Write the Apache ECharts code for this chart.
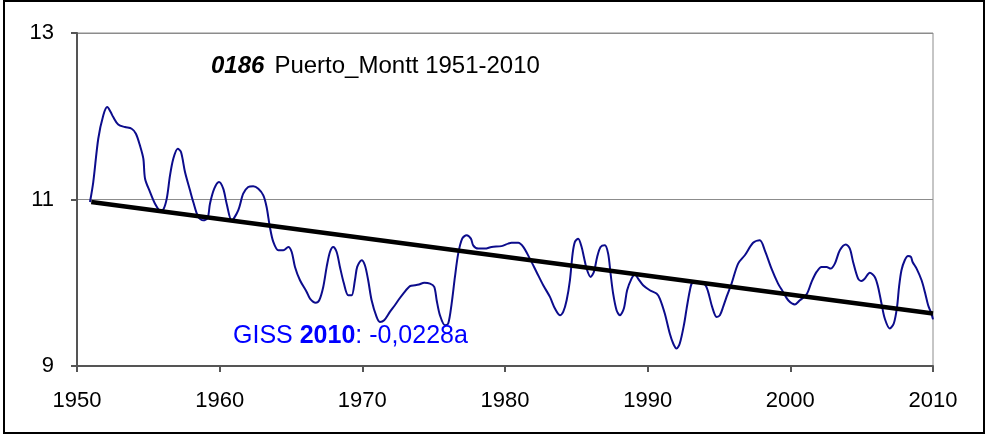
<!DOCTYPE html>
<html>
<head>
<meta charset="utf-8">
<script src="https://cdn.jsdelivr.net/npm/echarts@6/dist/echarts.min.js"></script>
<style>
    body { margin: 0; background: #fff; }
    #wrap { position: relative; width: 990px; height: 436px; }
    #frame { position: absolute; left: 3px; top: 0; width: 978px; height: 430px; border: 2px solid #000; pointer-events: none; }
    #chart { position: absolute; left: 0; top: 0; width: 990px; height: 436px; }
</style>
</head>
<body>
<div id="wrap">
    <div id="chart"></div>
    <div id="frame"></div>
</div>
<script>
// smoothed annual mean temperature, Puerto Montt
const years = [
    1950.91, 1951.14, 1951.49, 1951.84, 1952.12, 1952.36, 1952.54, 1952.89, 1953.36, 1953.83,
    1954.13, 1954.41, 1954.65, 1954.77, 1955.12, 1955.47, 1955.82, 1956.05, 1956.29, 1956.52,
    1956.75, 1957.06, 1957.29, 1957.57, 1957.92, 1958.15, 1958.50, 1958.85, 1959.16, 1959.32,
    1959.62, 1959.95, 1960.25, 1960.49, 1960.84, 1961.30, 1961.65, 1962.00, 1962.35, 1962.71,
    1963.06, 1963.29, 1963.52, 1963.76, 1964.11, 1964.46, 1964.81, 1965.05, 1965.28, 1965.63,
    1966.10, 1966.33, 1966.73, 1966.98, 1967.26, 1967.50, 1967.73, 1967.96, 1968.20, 1968.43,
    1968.71, 1969.01, 1969.25, 1969.48, 1969.64, 1969.95, 1970.18, 1970.41, 1970.65, 1971.00,
    1971.23, 1971.53, 1971.93, 1972.28, 1972.52, 1972.87, 1973.34, 1973.69, 1973.97, 1974.34,
    1974.74, 1975.04, 1975.21, 1975.44, 1975.79, 1976.02, 1976.26, 1976.49, 1976.72, 1977.00,
    1977.31, 1977.61, 1977.77, 1978.12, 1978.59, 1979.06, 1979.76, 1980.22, 1980.46, 1980.93,
    1981.28, 1981.74, 1982.21, 1982.68, 1983.15, 1983.50, 1983.85, 1984.08, 1984.32, 1984.55,
    1984.74, 1984.90, 1985.13, 1985.37, 1985.53, 1985.72, 1986.00, 1986.23, 1986.46, 1986.70,
    1987.00, 1987.23, 1987.40, 1987.58, 1987.82, 1988.05, 1988.33, 1988.56, 1988.87, 1989.10,
    1989.33, 1989.68, 1990.15, 1990.62, 1990.85, 1991.20, 1991.55, 1991.79, 1992.02, 1992.25,
    1992.56, 1992.73, 1992.96, 1993.12, 1993.43, 1994.01, 1994.24, 1994.52, 1994.83, 1995.06,
    1995.29, 1995.53, 1995.88, 1996.34, 1996.81, 1997.39, 1997.86, 1998.21, 1998.68, 1999.14,
    1999.49, 1999.85, 2000.32, 2000.67, 2001.14, 2001.49, 2001.84, 2002.19, 2002.54, 2002.82,
    2003.12, 2003.47, 2003.89, 2004.17, 2004.40, 2004.75, 2004.99, 2005.22, 2005.57, 2005.92,
    2006.15, 2006.39, 2006.62, 2006.97, 2007.25, 2007.48, 2007.62, 2007.79, 2008.02, 2008.25,
    2008.45, 2008.57, 2008.85, 2009.20, 2009.43, 2009.66, 2009.89, 2010.00
]
const temps = [
    10.97, 11.21, 11.73, 12.01, 12.11, 12.05, 11.99, 11.90, 11.87, 11.85,
    11.79, 11.65, 11.49, 11.25, 11.09, 10.95, 10.87, 10.88, 11.01, 11.29,
    11.49, 11.61, 11.57, 11.33, 11.11, 10.97, 10.79, 10.75, 10.78, 10.95,
    11.13, 11.21, 11.13, 10.95, 10.75, 10.87, 11.07, 11.15, 11.16, 11.13,
    11.05, 10.91, 10.67, 10.49, 10.39, 10.39, 10.43, 10.37, 10.19, 10.03,
    9.89, 9.81, 9.76, 9.79, 9.95, 10.19, 10.37, 10.43, 10.37, 10.19,
    9.99, 9.85, 9.85, 10.03, 10.19, 10.27, 10.21, 10.03, 9.79, 9.59,
    9.53, 9.55, 9.65, 9.73, 9.79, 9.87, 9.96, 9.97, 9.98, 10.00,
    9.99, 9.95, 9.79, 9.61, 9.49, 9.51, 9.75, 10.07, 10.35, 10.53,
    10.57, 10.53, 10.45, 10.41, 10.41, 10.43, 10.44, 10.47, 10.48, 10.48,
    10.43, 10.29, 10.13, 9.97, 9.83, 9.69, 9.61, 9.65, 9.79, 10.03,
    10.35, 10.49, 10.53, 10.43, 10.31, 10.17, 10.07, 10.13, 10.31, 10.43,
    10.45, 10.35, 10.11, 9.87, 9.67, 9.61, 9.69, 9.91, 10.05, 10.10,
    10.05, 9.97, 9.91, 9.87, 9.81, 9.63, 9.39, 9.27, 9.21, 9.27,
    9.51, 9.69, 9.91, 10.00, 10.01, 9.98, 9.89, 9.71, 9.59, 9.61,
    9.71, 9.83, 9.99, 10.23, 10.33, 10.48, 10.51, 10.39, 10.17, 9.99,
    9.89, 9.79, 9.74, 9.79, 9.86, 10.01, 10.13, 10.19, 10.19, 10.17,
    10.23, 10.39, 10.46, 10.41, 10.25, 10.05, 10.02, 10.05, 10.12, 10.07,
    9.95, 9.75, 9.57, 9.45, 9.51, 9.71, 9.95, 10.15, 10.27, 10.32,
    10.31, 10.25, 10.17, 10.03, 9.89, 9.73, 9.63, 9.56
]
// linear trend (GISS 2010: -0,0228 per year)
const trendYears = [1951, 2010]
const trendTemps = [10.97, 9.63]
const yTicks = [9, 11, 13]

const chart = echarts.init(document.getElementById('chart'), null, {renderer: 'canvas'})
const font = 'Liberation Sans, Arial, sans-serif'

const option = {
    backgroundColor: '#fff',
    animation: false,
    title: [{
        text: '{a|0186}  {b|Puerto_Montt 1951-2010}',
        left: 206,
        top: 49,
        textStyle: {
            rich: {
                a: {fontFamily: font, fontSize: 24, fontWeight: 'bold', fontStyle: 'italic', color: '#000'},
                b: {fontFamily: font, fontSize: 24, fontWeight: 'normal', color: '#000'}
            }
        }
    }, {
        text: '{c|GISS }{d|2010}{c|: -0,0228a}',
        left: 228,
        top: 319,
        textStyle: {
            rich: {
                c: {fontFamily: font, fontSize: 25, fontWeight: 'normal', color: '#0000ff'},
                d: {fontFamily: font, fontSize: 25, fontWeight: 'bold', color: '#0000ff'}
            }
        }
    }],
    grid: {
        left: 77,
        right: 57,
        top: 33,
        bottom: 70,
        show: true,
        borderColor: '#8c8c8c',
        borderWidth: 1
    },
    xAxis: {
        type: 'value',
        min: 1950,
        max: 2010,
        interval: 10,
        axisLine: {show: true, onZero: false, lineStyle: {color: '#555', width: 2}},
        axisTick: {show: true, length: 6, lineStyle: {color: '#555', width: 2}},
        axisLabel: {fontFamily: font, fontSize: 22, color: '#000', margin: 24, formatter: v => String(v)},
        splitLine: {show: false}
    },
    yAxis: {
        type: 'value',
        min: yTicks[0],
        max: yTicks[yTicks.length - 1],
        interval: 2,
        axisLine: {show: true, lineStyle: {color: '#555', width: 2}},
        axisTick: {show: true, length: 6, lineStyle: {color: '#555', width: 2}},
        axisLabel: {fontFamily: font, fontSize: 22, color: '#000', margin: 23},
        splitLine: {show: true, lineStyle: {color: '#8c8c8c', width: 1}}
    },
    series: [{
        name: 'temp',
        type: 'line',
        data: years.map((y, i) => [y, temps[i]]),
        smooth: 0.3,
        showSymbol: false,
        lineStyle: {color: '#0c0c8c', width: 2},
        z: 3
    }, {
        name: 'trend',
        type: 'line',
        data: trendYears.map((y, i) => [y, trendTemps[i]]),
        showSymbol: false,
        lineStyle: {color: '#000', width: 4.5},
        z: 4
    }]
}
chart.setOption(option)
</script>
</body>
</html>
